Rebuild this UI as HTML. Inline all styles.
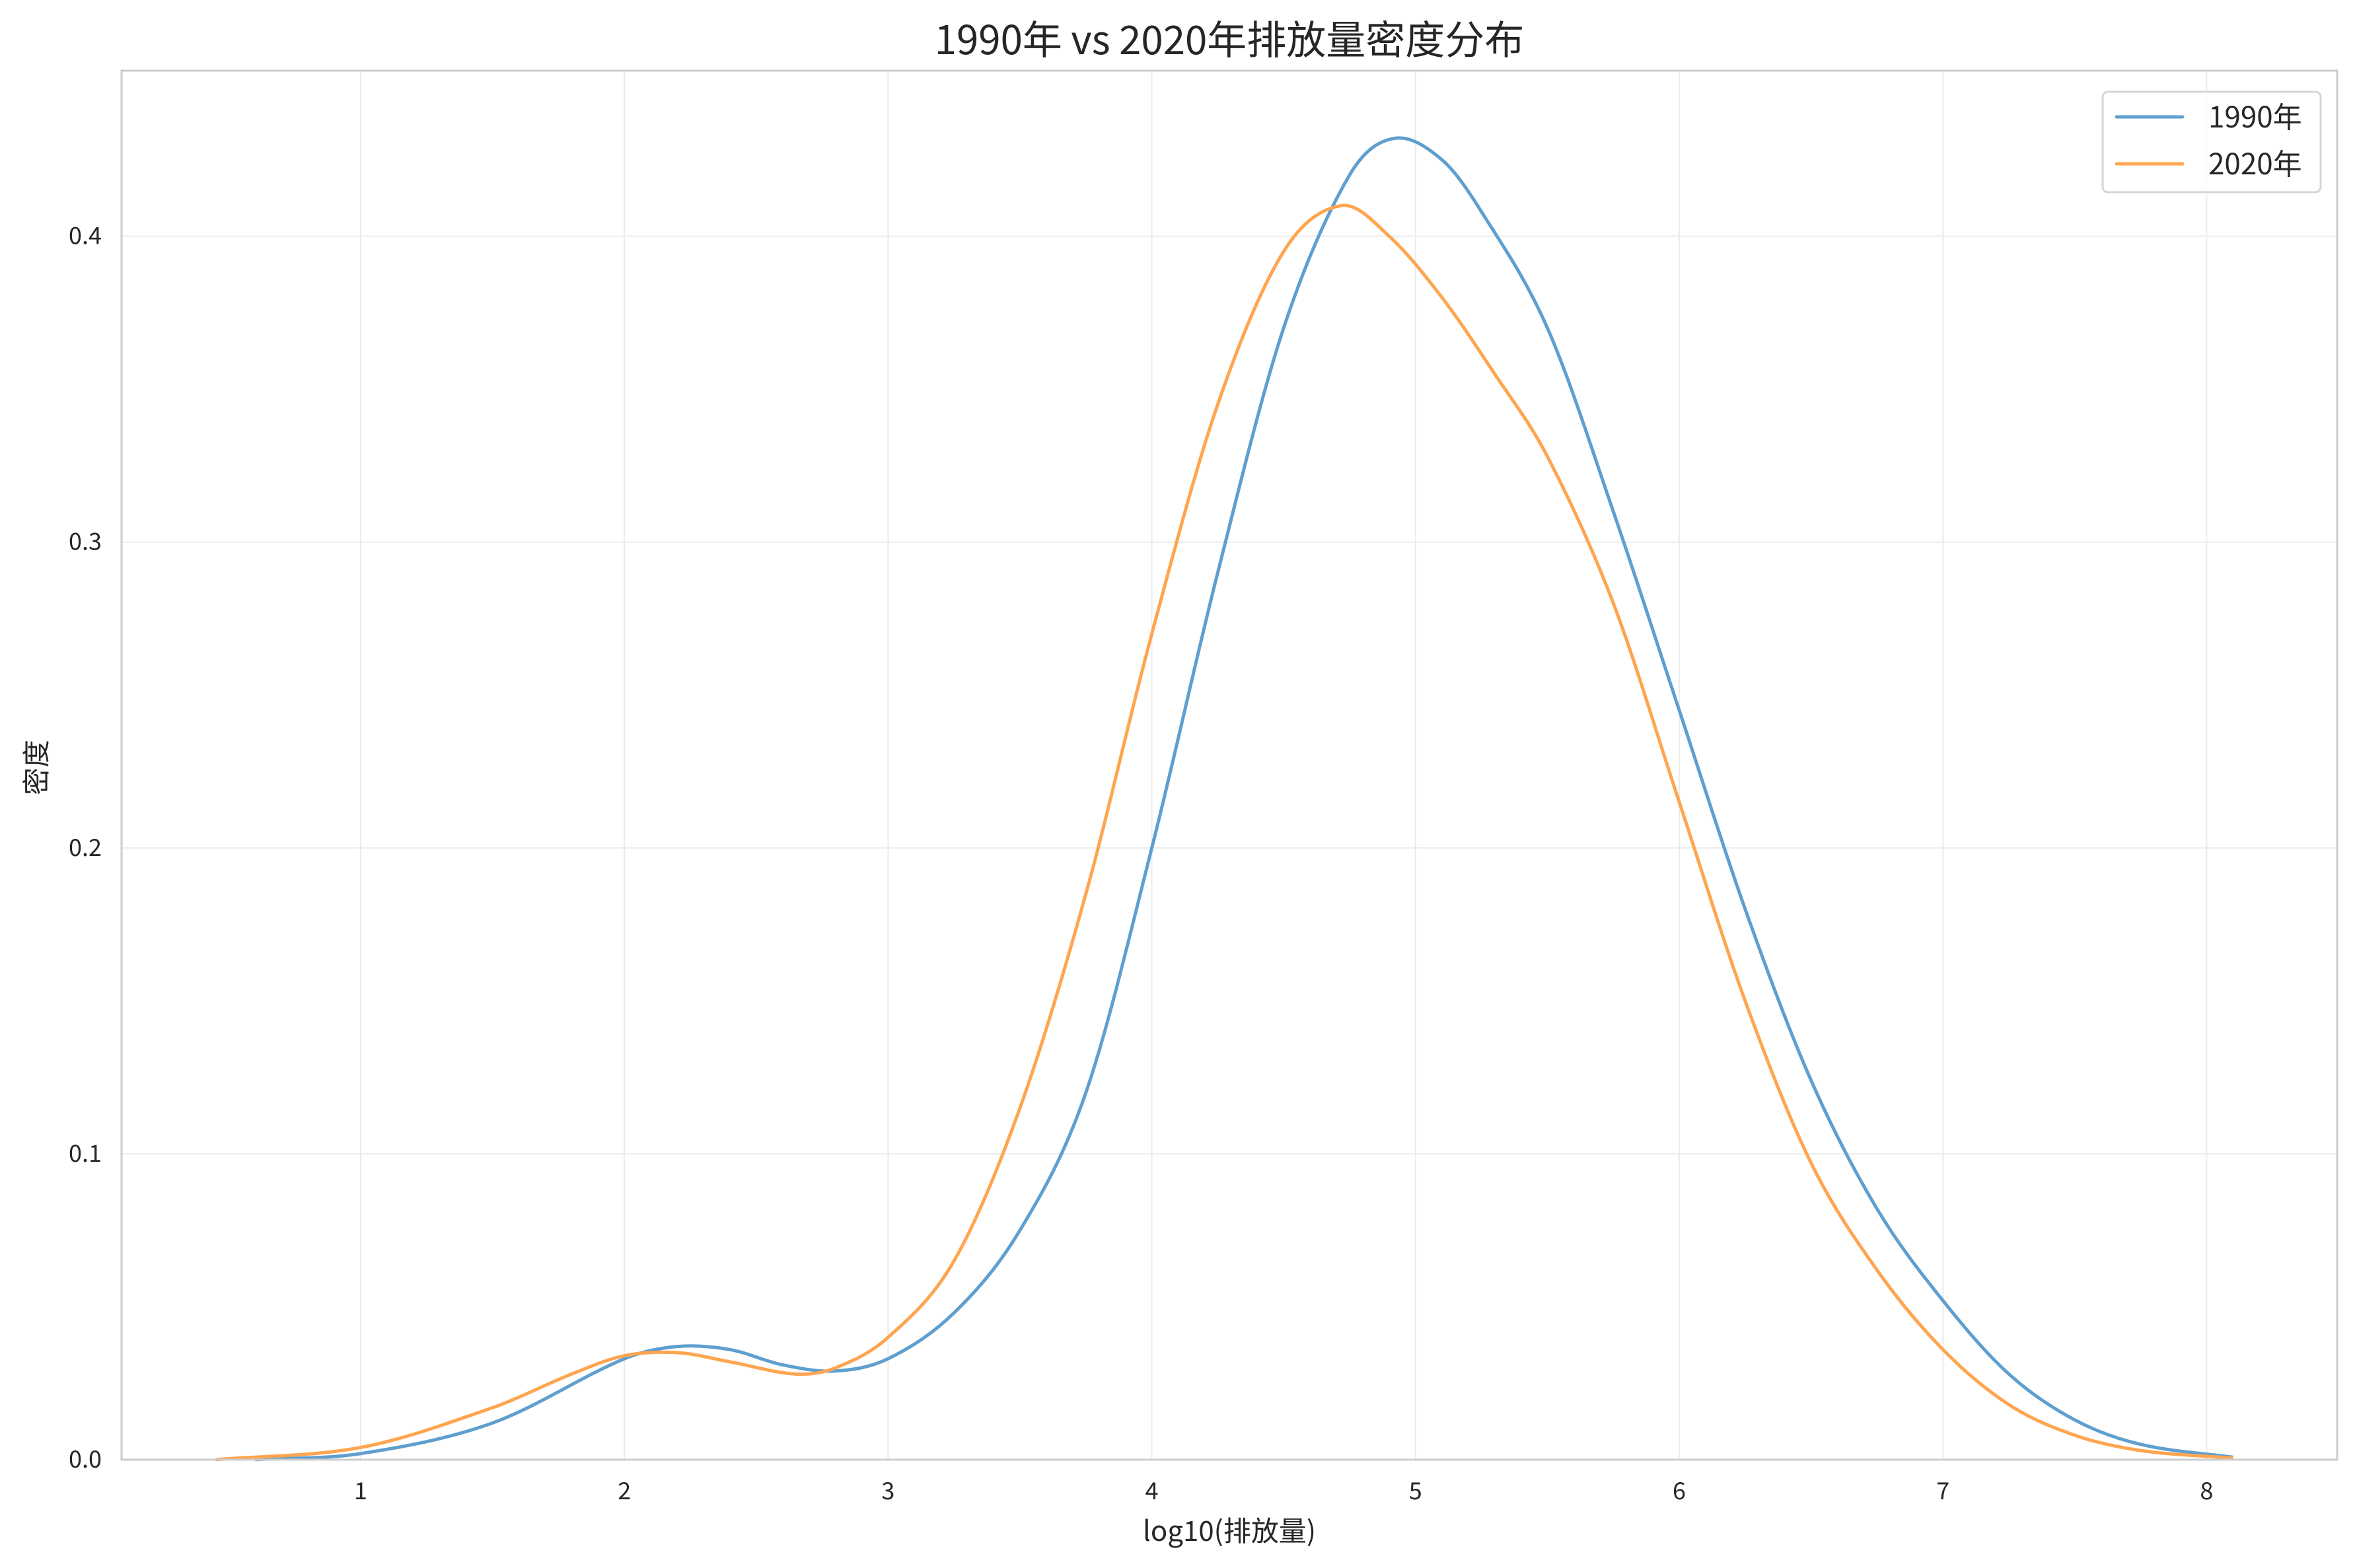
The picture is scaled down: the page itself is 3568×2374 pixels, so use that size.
<!DOCTYPE html>
<html><head><meta charset="utf-8"><style>
html,body{margin:0;padding:0;background:#fff;}
svg text{font-family:"WenQuanYi Zen Hei","Noto Sans CJK SC",sans-serif;fill:#262626;}
</style></head><body>
<svg id="chart" width="3568" height="2369" viewBox="0 0 3568 2369" xmlns="http://www.w3.org/2000/svg">
<rect width="3568" height="2369" fill="#fff"/>
<g id="grid"></g><g id="series"></g><g id="axes"></g>
<text x="1861" y="82" text-anchor="middle" font-size="60">1990年 vs 2020年排放量密度分布</text>
<text x="1861" y="2333" text-anchor="middle" font-size="42">log10(排放量)</text>
<text transform="translate(70,1162) rotate(-90)" text-anchor="middle" font-size="42">密度</text>
<g>
<rect x="3183" y="139" width="330" height="152" rx="8" fill="#fff" fill-opacity="0.8" stroke="#d5d5d5" stroke-width="3"/>
<line x1="3204" y1="177" x2="3304" y2="177" stroke="#5f9fcf" stroke-width="5" stroke-linecap="round"/>
<text x="3343" y="193" font-size="44">1990年</text>
<line x1="3204" y1="248" x2="3304" y2="248" stroke="#ffa550" stroke-width="5" stroke-linecap="round"/>
<text x="3343" y="264" font-size="44">2020年</text>
</g>
</svg>
<script>
const xTicks=[1,2,3,4,5,6,7,8];
const yTicks=[0,0.1,0.2,0.3,0.4];
const yTickLabels=["0.0","0.1","0.2","0.3","0.4"];
const x1990=[0.6,1.0,1.5,2.0,2.2,2.4,2.6,2.8,3.0,3.25,3.5,3.75,4.0,4.25,4.5,4.75,4.92,5.1,5.25,5.5,5.75,6.0,6.25,6.5,6.75,7.0,7.25,7.5,7.75,8.1];
const y1990=[0,0.002,0.012,0.033,0.037,0.036,0.031,0.029,0.033,0.048,0.075,0.12,0.20,0.29,0.37,0.42,0.432,0.425,0.408,0.37,0.31,0.245,0.18,0.124,0.082,0.052,0.028,0.013,0.005,0.0008];
const x2020=[0.45,1.0,1.5,1.8,2.0,2.2,2.4,2.65,2.8,3.0,3.25,3.5,3.75,4.0,4.25,4.5,4.72,4.9,5.1,5.3,5.5,5.75,6.0,6.25,6.5,6.75,7.0,7.25,7.5,7.75,8.1];
const y2020=[0,0.004,0.017,0.028,0.034,0.035,0.032,0.028,0.030,0.040,0.065,0.115,0.185,0.27,0.345,0.395,0.41,0.40,0.38,0.355,0.328,0.28,0.215,0.15,0.097,0.062,0.036,0.018,0.008,0.003,0.0005];

const L=184,R=3538,T=107,B=2210;
const sx=v=>546+(v-1)*399.2;
const sy=v=>B-v*4631;
const NS="http://www.w3.org/2000/svg";
function mk(t,a,p){const e=document.createElementNS(NS,t);for(const k in a)e.setAttribute(k,a[k]);p.appendChild(e);return e;}
const grid=document.getElementById('grid'),axes=document.getElementById('axes'),ser=document.getElementById('series');
xTicks.forEach(t=>{
 const g=mk('line',{x1:sx(t),x2:sx(t),y1:T,y2:B,stroke:'#ebebeb','stroke-width':2},grid);
 
 
 const l=mk('text',{x:sx(t),y:2270,'text-anchor':'middle','font-size':36},axes);
 l.textContent=t;
 
 
});
yTicks.forEach((t,i)=>{
 const g=mk('line',{x1:L,x2:R,y1:sy(t),y2:sy(t),stroke:'#ebebeb','stroke-width':2},grid);
 
 
 const l=mk('text',{x:154,y:sy(t)+12,'text-anchor':'end','font-size':36},axes);
 l.textContent=yTickLabels[i];
 
 
});
const frame=mk('rect',{x:L,y:T,width:R-L,height:B-T,fill:'none',stroke:'#cccccc','stroke-width':3},axes);


function path(xs,ys){
 const p=xs.map((x,i)=>[sx(x),sy(ys[i])]);
 let d='M'+p[0][0]+','+p[0][1];
 for(let i=0;i<p.length-1;i++){
  const p0=p[Math.max(0,i-1)],p1=p[i],p2=p[i+1],p3=p[Math.min(p.length-1,i+2)];
  const h=p2[0]-p1[0];
  const m1=(p2[1]-p0[1])/(p2[0]-p0[0]||1), m2=(p3[1]-p1[1])/(p3[0]-p1[0]||1);
  const c1=[p1[0]+h/3,p1[1]+m1*h/3];
  const c2=[p2[0]-h/3,p2[1]-m2*h/3];
  d+=' C'+c1+' '+c2+' '+p2;
 }
 return d;
}
const a=mk('path',{d:path(x1990,y1990),fill:'none',stroke:'#5f9fcf','stroke-width':5},ser);


const b=mk('path',{d:path(x2020,y2020),fill:'none',stroke:'#ffa550','stroke-width':5},ser);


</script>
</body></html>
